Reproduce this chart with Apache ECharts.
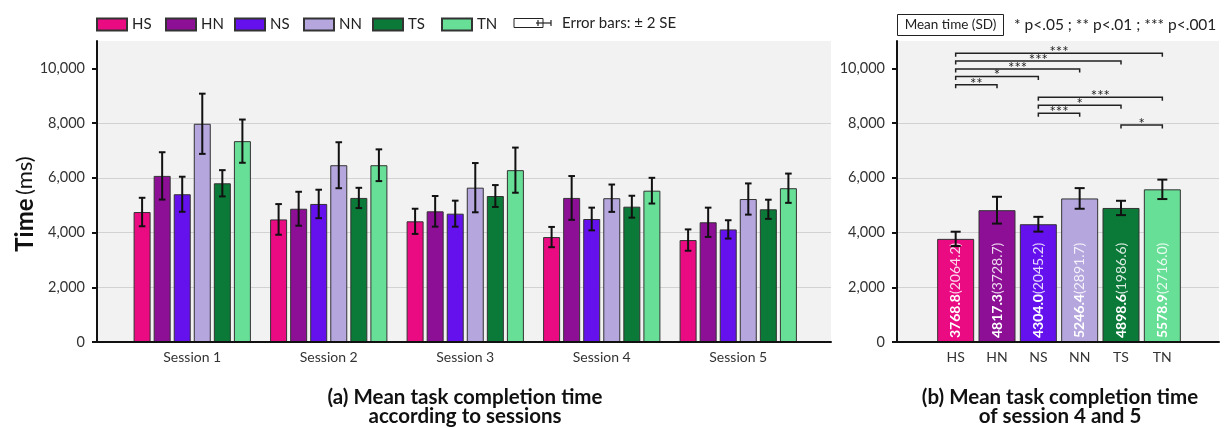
<!DOCTYPE html>
<html>
<head>
<meta charset="utf-8">
<script src="https://cdn.jsdelivr.net/npm/echarts@6/dist/echarts.min.js"></script>
<style>
  html, body { margin: 0; padding: 0; background: #ffffff; }
  #chart { width: 1232px; height: 428px; }
</style>
</head>
<body>
<div id="chart"></div>
<script>
// ---- data -------------------------------------------------------------
const sessions = ['Session 1', 'Session 2', 'Session 3', 'Session 4', 'Session 5'];
const conditions = ['HS', 'HN', 'NS', 'NN', 'TS', 'TN'];
const yTicks = [0, 2000, 4000, 6000, 8000, 10000];

// mean completion time (ms) per session
const meanHS = [4750, 4480, 4410, 3835, 3725];
const meanHN = [6070, 4870, 4775, 5265, 4375];
const meanNS = [5400, 5045, 4690, 4495, 4115];
const meanNN = [7975, 6460, 5640, 5255, 5225];
const meanTS = [5800, 5265, 5335, 4945, 4850];
const meanTN = [7340, 6460, 6280, 5530, 5620];

// error bar half-length (2 SE) per session
const errHS = [520, 560, 460, 370, 390];
const errHN = [865, 620, 560, 800, 535];
const errNS = [640, 520, 475, 415, 335];
const errNN = [1100, 840, 900, 500, 570];
const errTS = [480, 370, 400, 400, 350];
const errTN = [790, 580, 825, 470, 535];

// sessions 4 and 5 pooled
const pooledMean = [3768.8, 4817.3, 4304.0, 5246.4, 4898.6, 5578.9];
const pooledSD = [2064.2, 3728.7, 2045.2, 2891.7, 1986.6, 2716.0];
const pooledErr = [262, 490, 270, 377, 262, 355];

// significance brackets: [from, to, height (ms), stars]
const sigBrackets = [
  ['HS', 'TN', 10550, '***'],
  ['HS', 'TS', 10270, '***'],
  ['HS', 'NN', 9980, '***'],
  ['HS', 'NS', 9700, '*'],
  ['HS', 'HN', 9400, '**'],
  ['NS', 'TN', 8940, '***'],
  ['NS', 'TS', 8650, '*'],
  ['NS', 'NN', 8360, '***'],
  ['TS', 'TN', 7930, '*']
];

// ---- styling ----------------------------------------------------------
const colors = ['#ea0a82', '#8c0f96', '#6511ee', '#b5a6de', '#0b7a38', '#68df97'];
const FONT = 'Lato';
const meansBySeries = [meanHS, meanHN, meanNS, meanNN, meanTS, meanTN];
const errsBySeries = [errHS, errHN, errNS, errNN, errTS, errTN];

const BAR_W = 17;
const BAR_GAP = 0.18;
const SLOT = BAR_W * (1 + BAR_GAP);

const chart = echarts.init(document.getElementById('chart'), null, { renderer: 'canvas' });

const fmt = v => v.toLocaleString('en-US');

function frameYAxis(gridIndex) {
  return {
    type: 'value', gridIndex, min: 0, max: 11000, interval: 1000,
    axisLine: { show: true, lineStyle: { color: '#111', width: 2 } },
    axisTick: { show: true, customValues: yTicks, length: 5, lineStyle: { color: '#111', width: 2 } },
    axisLabel: { show: true, customValues: yTicks, formatter: fmt, fontFamily: FONT, fontSize: 14.5, color: '#333', margin: 12 },
    splitLine: { show: true, showMaxLine: false, showMinLine: false, lineStyle: { color: '#d2d2d2', width: 1 } }
  };
}
function frameXAxis(gridIndex) {
  return {
    type: 'value', gridIndex, min: 0, max: 1, z: 5,
    axisLine: { show: true, onZero: false, lineStyle: { color: '#111', width: 2 } },
    axisTick: { show: false }, axisLabel: { show: false }, splitLine: { show: false }
  };
}
function hiddenY(gridIndex) {
  return { type: 'value', gridIndex, min: 0, max: 11000, show: false, splitLine: { show: false } };
}

// bar series for the per-session chart
const sessionBars = conditions.map((c, k) => ({
  name: c, type: 'bar', xAxisIndex: 1, yAxisIndex: 1,
  barWidth: BAR_W, barGap: (BAR_GAP * 100) + '%',
  itemStyle: { color: colors[k], borderColor: '#333', borderWidth: 1 },
  data: meansBySeries[k]
}));

// error bars for the per-session chart
const sessionErrData = [];
conditions.forEach((c, k) => {
  sessions.forEach((s, i) => {
    sessionErrData.push([i, meansBySeries[k][i], errsBySeries[k][i], k]);
  });
});

function errorBar(x, hi, lo, cap) {
  const st = { stroke: '#111', lineWidth: 2 };
  return {
    type: 'group',
    children: [
      { type: 'line', shape: { x1: x, y1: hi, x2: x, y2: lo }, style: st },
      { type: 'line', shape: { x1: x - cap, y1: hi, x2: x + cap, y2: hi }, style: st },
      { type: 'line', shape: { x1: x - cap, y1: lo, x2: x + cap, y2: lo }, style: st }
    ]
  };
}

const sessionErrSeries = {
  type: 'custom', xAxisIndex: 1, yAxisIndex: 1, z: 10,
  encode: { x: 0, y: 1 },
  data: sessionErrData,
  renderItem: (params, api) => {
    const i = api.value(0), m = api.value(1), e = api.value(2), k = api.value(3);
    const top = api.coord([i, m + e]);
    const bot = api.coord([i, m - e]);
    const x = top[0] + (k - 2.5) * SLOT;
    return errorBar(x, top[1], bot[1], 3.3);
  }
};

// pooled chart
const pooledBars = {
  name: 'pooled', type: 'bar', xAxisIndex: 3, yAxisIndex: 3, barWidth: 37,
  data: pooledMean.map((v, i) => ({
    value: v,
    itemStyle: { color: colors[i], borderColor: '#333', borderWidth: 1 }
  })),
  label: {
    show: true, position: 'insideBottom', rotate: 90, align: 'left', verticalAlign: 'middle',
    distance: 4,
    formatter: p => '{m|' + pooledMean[p.dataIndex].toFixed(1) + '}{s|(' + pooledSD[p.dataIndex].toFixed(1) + ')}',
    rich: {
      m: { fontFamily: FONT, fontSize: 14, fontWeight: 'bold', color: '#ffffff' },
      s: { fontFamily: FONT, fontSize: 14, color: 'rgba(255,255,255,0.85)' }
    }
  }
};

const pooledErrSeries = {
  type: 'custom', xAxisIndex: 3, yAxisIndex: 3, z: 10,
  encode: { x: 0, y: 1 },
  data: pooledMean.map((m, i) => [i, m, pooledErr[i]]),
  renderItem: (params, api) => {
    const i = api.value(0), m = api.value(1), e = api.value(2);
    const top = api.coord([i, m + e]);
    const bot = api.coord([i, m - e]);
    return errorBar(top[0], top[1], bot[1], 5);
  }
};

const bracketSeries = {
  type: 'custom', xAxisIndex: 3, yAxisIndex: 3, z: 10,
  encode: { x: 0, y: 2 },
  data: sigBrackets.map(b => [conditions.indexOf(b[0]), conditions.indexOf(b[1]), b[2]]),
  renderItem: (params, api) => {
    const a = api.coord([api.value(0), api.value(2)]);
    const b = api.coord([api.value(1), api.value(2)]);
    const st = { stroke: '#222', lineWidth: 1.5, fill: null };
    return {
      type: 'group',
      children: [
        { type: 'polyline', shape: { points: [[a[0], a[1] + 3.5], [a[0], a[1]], [b[0], b[1]], [b[0], b[1] + 3.5]] }, style: st },
        { type: 'text', x: (a[0] + b[0]) / 2, y: a[1] + 6.5,
          style: { text: sigBrackets[params.dataIndex][3], fontFamily: FONT, fontSize: 15, fill: '#222',
                   textAlign: 'center', textVerticalAlign: 'bottom' } }
      ]
    };
  }
};

const captionStyle = { fontFamily: FONT, fontSize: 20.5, fontWeight: 'bold', fill: '#111', textAlign: 'center', textVerticalAlign: 'middle' };

// one legend block per condition, evenly spaced
const legends = conditions.map((c, k) => ({
  data: [c], left: 96 + 69 * k, top: 17, padding: 0, icon: 'rect',
  itemWidth: 30, itemHeight: 12,
  textStyle: { fontFamily: FONT, fontSize: 15, color: '#222' }
}));

const option = {
  animation: false,
  backgroundColor: '#ffffff',
  textStyle: { fontFamily: FONT },
  legend: legends,
  grid: [
    { left: 97, top: 41, width: 734, height: 301, show: true, backgroundColor: '#f2f2f2', borderWidth: 0 },
    { left: 124, top: 41, width: 682.5, height: 301 },
    { left: 897, top: 41, width: 322, height: 301, show: true, backgroundColor: '#f2f2f2', borderWidth: 0 },
    { left: 935, top: 41, width: 248, height: 301 }
  ],
  xAxis: [
    frameXAxis(0),
    { type: 'category', gridIndex: 1, data: sessions, axisLine: { show: false }, axisTick: { show: false },
      axisLabel: { fontFamily: FONT, fontSize: 14, color: '#333', margin: 8 } },
    frameXAxis(2),
    { type: 'category', gridIndex: 3, data: conditions, axisLine: { show: false }, axisTick: { show: false },
      axisLabel: { fontFamily: FONT, fontSize: 14, color: '#333', margin: 8 } }
  ],
  yAxis: [frameYAxis(0), hiddenY(1), frameYAxis(2), hiddenY(3)],
  series: [...sessionBars, sessionErrSeries, pooledBars, pooledErrSeries, bracketSeries],
  graphic: [
    // error bar key
    { type: 'rect', shape: { x: 514, y: 18.5, width: 29, height: 9 }, style: { fill: '#fff', stroke: '#222', lineWidth: 1 } },
    { type: 'line', shape: { x1: 536, y1: 23, x2: 551, y2: 23 }, style: { stroke: '#222', lineWidth: 1.2 } },
    { type: 'line', shape: { x1: 538, y1: 20, x2: 538, y2: 26 }, style: { stroke: '#222', lineWidth: 1.2 } },
    { type: 'line', shape: { x1: 551, y1: 20, x2: 551, y2: 26 }, style: { stroke: '#222', lineWidth: 1.2 } },
    { type: 'text', x: 562, y: 23.5, style: { text: 'Error bars: ± 2 SE', fontFamily: FONT, fontSize: 15, fill: '#222', textVerticalAlign: 'middle' } },
    // mean (SD) key and significance levels
    { type: 'rect', shape: { x: 897.5, y: 14.5, width: 106, height: 21 }, style: { fill: '#fff', stroke: '#222', lineWidth: 1 } },
    { type: 'text', x: 950.5, y: 25, style: { text: 'Mean time (SD)', fontFamily: FONT, fontSize: 13.5, fill: '#222', textAlign: 'center', textVerticalAlign: 'middle' } },
    { type: 'text', x: 1014, y: 25, style: { text: '* p<.05 ; ** p<.01 ; *** p<.001', fontFamily: FONT, fontSize: 15.5, fill: '#222', textVerticalAlign: 'middle' } },
    // y axis title
    { type: 'text', x: 25, y: 204, rotation: Math.PI / 2,
      style: { text: '{b|Time} {r|(ms)}', textAlign: 'center', textVerticalAlign: 'middle',
               rich: { b: { fontFamily: FONT, fontSize: 24, fontWeight: 'bold', fill: '#111' },
                       r: { fontFamily: FONT, fontSize: 22, fill: '#111' } } } },
    // panel captions
    { type: 'text', x: 465, y: 397, style: Object.assign({ text: '(a) Mean task completion time' }, captionStyle) },
    { type: 'text', x: 465, y: 416.5, style: Object.assign({ text: 'according to sessions' }, captionStyle) },
    { type: 'text', x: 1060, y: 397, style: Object.assign({ text: '(b) Mean task completion time' }, captionStyle) },
    { type: 'text', x: 1060, y: 416.5, style: Object.assign({ text: 'of session 4 and 5' }, captionStyle) }
  ]
};

chart.setOption(option);
</script>
</body>
</html>
